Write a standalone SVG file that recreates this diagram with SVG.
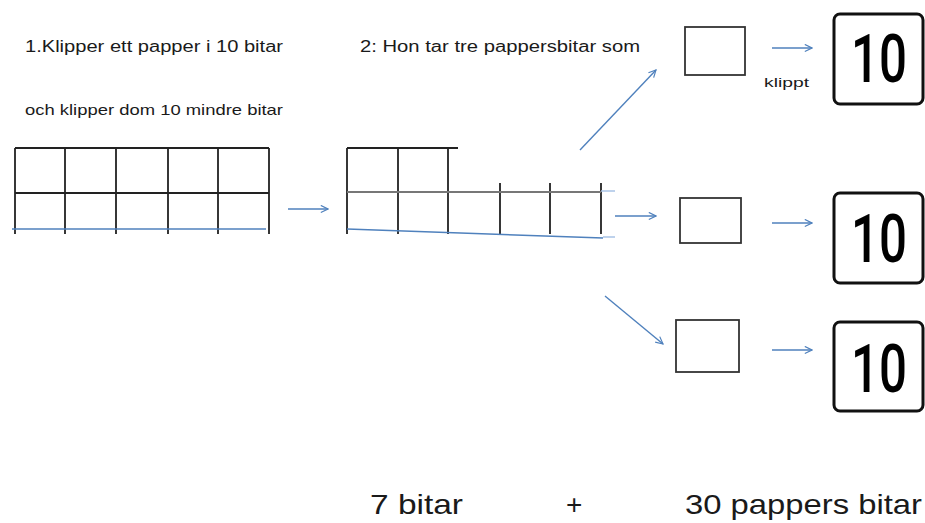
<svg xmlns="http://www.w3.org/2000/svg" width="925" height="523" viewBox="0 0 925 523">
<defs>
<marker id="ah" viewBox="0 0 10 10" refX="9" refY="5" markerWidth="9" markerHeight="9" markerUnits="userSpaceOnUse" orient="auto">
<path d="M1,1 L9,5 L1,9" fill="none" stroke="#4f81bd" stroke-width="1.3"/>
</marker>
</defs>
<style>
.txt{font-family:"Liberation Sans",Arial,sans-serif;fill:#1a1a1a}
.grid{stroke:#222;stroke-width:1.8;fill:none}
.blue{stroke:#4f81bd;stroke-width:1.5;fill:none}
.lb{stroke:#a9c4e6;stroke-width:1.5;fill:none}
.con{stroke:#4f81bd;stroke-width:1.4;fill:none;marker-end:url(#ah)}
.box{fill:#fff;stroke:#333;stroke-width:1.8}
.ten{fill:#fff;stroke:#111;stroke-width:3}
.tentxt{font-family:Roboto,"Liberation Sans",Arial,sans-serif;font-weight:500;font-size:66px;fill:#000}
</style>
<rect width="925" height="523" fill="#fff"/>

<g id="texts">
<text class="txt" x="25" y="52" font-size="16" textLength="258" lengthAdjust="spacingAndGlyphs">1.Klipper ett papper i 10 bitar</text>
<text class="txt" x="25" y="115" font-size="15" textLength="258" lengthAdjust="spacingAndGlyphs">och klipper dom 10 mindre  bitar</text>
<text class="txt" x="360" y="52" font-size="16" textLength="280" lengthAdjust="spacingAndGlyphs">2: Hon tar tre pappersbitar som</text>
<text class="txt" x="764" y="87" font-size="13" fill="#3a2a4a" textLength="45" lengthAdjust="spacingAndGlyphs">klippt</text>
<text class="txt" x="370" y="514" font-size="28" textLength="93" lengthAdjust="spacingAndGlyphs">7 bitar</text>
<text class="txt" x="566" y="514" font-size="28">+</text>
<text class="txt" x="685" y="514" font-size="28" textLength="237" lengthAdjust="spacingAndGlyphs">30 pappers bitar</text>
</g>

<g id="grid1">
<path class="grid" d="M15,148 H269 M15,193 H269 M15,148 V234 M65,148 V234 M116,148 V234 M168,148 V234 M218,148 V234 M269,148 V234"/>
<path class="blue" d="M12,229 H266"/>
</g>

<g id="grid2">
<path class="grid" d="M347,148 H458 M347,148 V234 M398,148 V234 M448,148 V234 M500,183 V234 M550,183 V234 M601,183 V234"/>
<path d="M347,192 H601" stroke="#777" stroke-width="2.2"/>
<path class="blue" d="M347,229 L603,238"/>
<path class="lb" d="M601,191 H615 M603,237 H615"/>
</g>

<g id="box1"><rect class="box" x="685" y="27" width="60" height="48"/></g>
<g id="box2"><rect class="box" x="680" y="198" width="61" height="45"/></g>
<g id="box3"><rect class="box" x="676" y="320" width="63" height="52"/></g>

<g id="ten1"><rect class="ten" x="834" y="14" width="89" height="90" rx="6"/><text class="tentxt" x="879" y="82" text-anchor="middle" textLength="56" lengthAdjust="spacingAndGlyphs">10</text></g>
<g id="ten2"><rect class="ten" x="834" y="193" width="89" height="90" rx="6"/><text class="tentxt" x="879" y="262" text-anchor="middle" textLength="56" lengthAdjust="spacingAndGlyphs">10</text></g>
<g id="ten3"><rect class="ten" x="834" y="322" width="89" height="89" rx="6"/><text class="tentxt" x="879" y="392" text-anchor="middle" textLength="56" lengthAdjust="spacingAndGlyphs">10</text></g>

<g id="connectors">
<path class="con" d="M288,209 H328"/>
<path class="con" d="M580,150 L656,70"/>
<path class="con" d="M615,216 H656"/>
<path class="con" d="M605,296 L663,344"/>
<path class="con" d="M772,48 H812"/>
<path class="con" d="M772,223 H812"/>
<path class="con" d="M772,350 H812"/>
</g>
</svg>
